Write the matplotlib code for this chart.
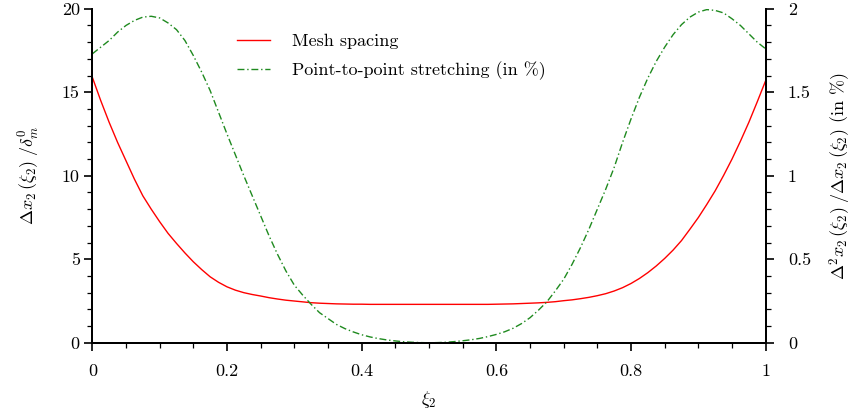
import numpy as np
import matplotlib
matplotlib.use('Agg')
import matplotlib.pyplot as plt
from matplotlib.ticker import MultipleLocator

plt.rcParams['font.family'] = 'cmr10'
plt.rcParams['mathtext.fontset'] = 'cm'
plt.rcParams['axes.formatter.use_mathtext'] = True
plt.rcParams['font.size'] = 13

# grid coordinate xi_2, read every 0.0125
xi = np.arange(81) * 0.0125
# mesh spacing dx2/delta_m^0 (left axis)
spacing = [15.9, 14.5, 13.2, 12.0, 10.9, 9.8, 8.8, 8.0, 7.25, 6.55,
           5.95, 5.38, 4.85, 4.38, 3.95, 3.62, 3.35, 3.15, 3.0, 2.89,
           2.8, 2.7, 2.62, 2.55, 2.5, 2.45, 2.4, 2.37, 2.35, 2.33,
           2.32, 2.31, 2.31, 2.3, 2.3, 2.3, 2.3, 2.3, 2.3, 2.3,
           2.3, 2.3, 2.3, 2.3, 2.3, 2.3, 2.3, 2.3, 2.31, 2.32,
           2.33, 2.35, 2.37, 2.39, 2.42, 2.46, 2.52, 2.57, 2.64, 2.72,
           2.82, 2.94, 3.1, 3.3, 3.55, 3.85, 4.2, 4.6, 5.05, 5.55,
           6.12, 6.8, 7.5, 8.28, 9.1, 10.02, 11.0, 12.07, 13.2, 14.43,
           15.7]
# point-to-point stretching in % (right axis)
stretch = [1.73, 1.77, 1.81, 1.86, 1.90, 1.93, 1.95, 1.955, 1.945, 1.915,
           1.875, 1.81, 1.72, 1.62, 1.51, 1.38, 1.25, 1.125, 1.00, 0.88,
           0.76, 0.64, 0.53, 0.43, 0.345, 0.285, 0.23, 0.18, 0.145, 0.11,
           0.085, 0.065, 0.048, 0.035, 0.025, 0.017, 0.011, 0.006, 0.003, 0.001,
           0.0, 0.001, 0.003, 0.007, 0.012, 0.018, 0.026, 0.037, 0.05, 0.066,
           0.087, 0.115, 0.15, 0.195, 0.245, 0.31, 0.38, 0.47, 0.57, 0.68,
           0.80, 0.92, 1.05, 1.20, 1.34, 1.47, 1.585, 1.685, 1.77, 1.845,
           1.905, 1.95, 1.98, 1.995, 1.99, 1.975, 1.94, 1.90, 1.85, 1.80,
           1.76]

fig = plt.figure(figsize=(8.58, 4.17), dpi=100)
ax = fig.add_axes([0.1076, 0.178, 0.7848, 0.801])
ax2 = ax.twinx()

l1, = ax.plot(xi, spacing, color='red', lw=1.0, label='Mesh spacing')
l2, = ax2.plot(xi, stretch, color='#1f8a1f', lw=1.0, dashes=(5, 2, 1, 2),
               label='Point-to-point stretching (in %)')

ax.set_xlim(0, 1)
ax.set_ylim(0, 20)
ax2.set_ylim(0, 2)

ax.xaxis.set_major_locator(MultipleLocator(0.2))
ax.xaxis.set_minor_locator(MultipleLocator(0.05))
ax.yaxis.set_major_locator(MultipleLocator(5))
ax.yaxis.set_minor_locator(MultipleLocator(1))
ax2.yaxis.set_major_locator(MultipleLocator(0.5))
ax2.yaxis.set_minor_locator(MultipleLocator(0.1))

ax.xaxis.set_major_formatter(lambda v, p: '%g' % v)
ax.yaxis.set_major_formatter(lambda v, p: '%g' % v)
ax2.yaxis.set_major_formatter(lambda v, p: '%g' % v)

for a in (ax, ax2):
    a.spines['top'].set_visible(False)
    for s in a.spines.values():
        s.set_linewidth(1.4)
ax.tick_params(which='major', direction='out', length=6, width=1.2)
ax.tick_params(which='minor', direction='out', length=3.5, width=0.9)
ax.tick_params(axis='x', which='major', pad=9)
ax.tick_params(axis='y', which='major', pad=3)
ax2.tick_params(which='major', direction='out', length=6, width=1.2, pad=10)
ax2.tick_params(which='minor', direction='out', length=3.5, width=0.9)

ax.set_xlabel(r'$\xi_2$', labelpad=7)
ax.set_ylabel(r'$\Delta x_2\,(\xi_2)\;/\delta_m^0$', labelpad=14)
ax2.set_ylabel(r'$\Delta^2 x_2\,(\xi_2)\;/\Delta x_2\,(\xi_2)$ (in %)', labelpad=12)

ax.legend([l1, l2], [l1.get_label(), l2.get_label()], frameon=False,
          loc='upper left', bbox_to_anchor=(0.19, 0.975), handlelength=1.83,
          handletextpad=1.22, labelspacing=0.7, fontsize=13)

fig.savefig('out.png', dpi=100)
